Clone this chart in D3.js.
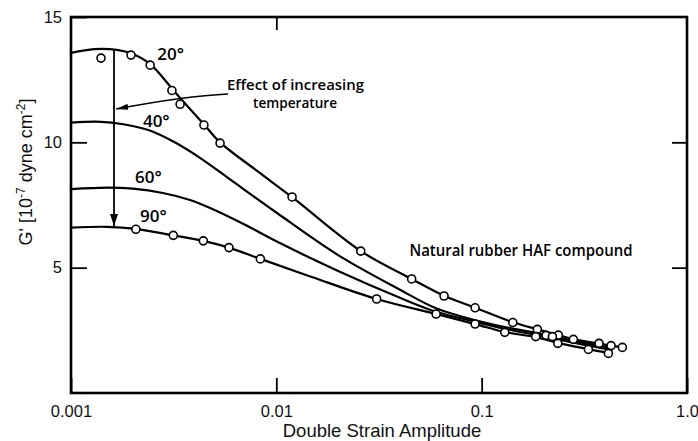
<!DOCTYPE html>
<html>
<head>
<meta charset="utf-8">
<script src="https://cdn.jsdelivr.net/npm/d3@7"></script>
<style>
  html, body { margin: 0; padding: 0; background: #fff; }
  svg { display: block; }
</style>
</head>
<body>
<svg id="chart" width="698" height="441"></svg>
<script>
// Storage modulus G' of a natural rubber HAF compound against double strain amplitude,
// at four temperatures.

const strainTicks = [0.001, 0.01, 0.1, 1];
const strainTickLabels = ["0.001", "0.01", "0.1", "1.0"];
const modulusTicks = [5, 10, 15];
const temperatures = ["20°", "40°", "60°", "90°"];

// Smooth curves, [double strain amplitude, G' in 10^7 dyne/cm^2]
const curve20 = [[0.001, 13.57], [0.0013, 13.72], [0.0017, 13.68], [0.00196, 13.55], [0.00243, 13.12],
  [0.0031, 12.15], [0.00353, 11.62], [0.00444, 10.72], [0.00532, 10.0], [0.008, 8.88], [0.0119, 7.82],
  [0.0258, 5.66], [0.0456, 4.55], [0.0656, 3.88], [0.093, 3.40], [0.142, 2.82], [0.187, 2.54],
  [0.236, 2.31], [0.28, 2.15], [0.373, 1.97], [0.427, 1.89], [0.485, 1.82]];
const curve40 = [[0.001, 10.79], [0.0014, 10.82], [0.0018, 10.72], [0.0024, 10.48], [0.0032, 10.0],
  [0.0043, 9.35], [0.006, 8.5], [0.01, 7.2], [0.02, 5.5], [0.04, 4.12], [0.06, 3.38], [0.093, 2.9],
  [0.13, 2.63], [0.2, 2.34], [0.3, 2.03], [0.43, 1.8]];
const curve60 = [[0.001, 8.13], [0.0015, 8.19], [0.002, 8.15], [0.0028, 7.98], [0.0038, 7.7],
  [0.005, 7.3], [0.007, 6.72], [0.01, 6.05], [0.02, 4.87], [0.04, 3.8], [0.06, 3.24], [0.093, 2.84],
  [0.13, 2.56], [0.2, 2.26], [0.3, 1.96], [0.43, 1.72]];
const curve90 = [[0.001, 6.6], [0.0015, 6.63], [0.00207, 6.55], [0.00315, 6.29], [0.00441, 6.07],
  [0.00588, 5.80], [0.00836, 5.35], [0.015, 4.62], [0.0308, 3.75], [0.06, 3.15], [0.0929, 2.75],
  [0.1296, 2.43], [0.1834, 2.23], [0.2348, 2.0], [0.331, 1.75], [0.414, 1.6]];

// Measured points
const points20 = [[0.0014, 13.36], [0.00196, 13.48], [0.00243, 13.08], [0.0031, 12.07], [0.0034, 11.52],
  [0.00444, 10.69], [0.00532, 9.97], [0.01193, 7.82], [0.02577, 5.66], [0.0456, 4.55], [0.0656, 3.87],
  [0.0929, 3.40], [0.1418, 2.81], [0.1867, 2.54], [0.2364, 2.31], [0.2797, 2.14], [0.373, 1.98],
  [0.427, 1.89], [0.4845, 1.82]];
const points40 = [[0.206, 2.30]];
const points60 = [[0.221, 2.25]];
const points90 = [[0.00207, 6.53], [0.00315, 6.29], [0.00441, 6.07], [0.00588, 5.80], [0.00836, 5.35],
  [0.0308, 3.75], [0.06, 3.15], [0.0929, 2.75], [0.1296, 2.42], [0.1834, 2.25], [0.2348, 1.98],
  [0.331, 1.74], [0.414, 1.58]];

const svg = d3.select("#chart");
const plotLeft = 71, plotRight = 687, plotTop = 17, plotBottom = 393;

const x = d3.scaleLog().domain([0.001, 1]).range([plotLeft, plotRight]);
const y = d3.scaleLinear().domain([0, 15]).range([plotBottom, plotTop]);

const ink = "#000";
const tickFont = "'Liberation Sans', Arial, sans-serif";
const noteFont = "'Open Sans', 'Liberation Sans', sans-serif";

// arrowhead markers
const defs = svg.append("defs");
defs.append("marker")
  .attr("id", "head")
  .attr("viewBox", "0 0 12 8")
  .attr("refX", 12).attr("refY", 4)
  .attr("markerUnits", "userSpaceOnUse")
  .attr("markerWidth", 12).attr("markerHeight", 8)
  .attr("orient", "auto")
  .append("path").attr("d", "M0,0 L12,4 L0,8 Z").attr("fill", ink);
defs.append("marker")
  .attr("id", "headThin")
  .attr("viewBox", "0 0 12 6")
  .attr("refX", 12).attr("refY", 3)
  .attr("markerUnits", "userSpaceOnUse")
  .attr("markerWidth", 12).attr("markerHeight", 6)
  .attr("orient", "auto")
  .append("path").attr("d", "M0,0 L12,3 L0,6 Z").attr("fill", ink);

// axes with inward ticks
const bottomAxis = d3.axisBottom(x).tickValues(strainTicks)
  .tickFormat((d, i) => strainTickLabels[i]).tickSizeInner(-15).tickSizeOuter(0).tickPadding(12);
const leftAxis = d3.axisLeft(y).tickValues(modulusTicks)
  .tickFormat(d3.format("d")).tickSizeInner(-16).tickSizeOuter(0).tickPadding(9);
const rightAxis = d3.axisRight(y).tickValues([5, 10]).tickFormat("").tickSizeInner(-15).tickSizeOuter(0);
const topAxis = d3.axisTop(x).tickValues([0.01]).tickFormat("").tickSizeInner(-13).tickSizeOuter(0);

function styleAxis(g) {
  g.select(".domain").remove();
  g.selectAll(".tick line").attr("stroke", ink).attr("stroke-width", 1.8);
  g.selectAll(".tick text").attr("fill", "#111").attr("font-family", tickFont).attr("font-size", 16.5);
}
svg.append("g").attr("transform", `translate(0,${plotBottom})`).call(bottomAxis).call(styleAxis);
svg.append("g").attr("transform", `translate(${plotLeft},0)`).call(leftAxis).call(styleAxis);
svg.append("g").attr("transform", `translate(${plotRight},0)`).call(rightAxis).call(styleAxis);
svg.append("g").attr("transform", `translate(0,${plotTop})`).call(topAxis).call(styleAxis);

// frame
svg.append("rect")
  .attr("x", plotLeft).attr("y", plotTop)
  .attr("width", plotRight - plotLeft).attr("height", plotBottom - plotTop)
  .attr("fill", "none").attr("stroke", ink).attr("stroke-width", 2.6);

// axis titles
svg.append("text")
  .attr("x", (plotLeft + plotRight) / 2 + 3).attr("y", 437)
  .attr("text-anchor", "middle")
  .attr("font-family", tickFont).attr("font-size", 18.5).attr("fill", "#111")
  .text("Double Strain Amplitude");

const yTitle = svg.append("text")
  .attr("transform", "translate(32,172) rotate(-90)")
  .attr("text-anchor", "middle")
  .attr("font-family", tickFont).attr("font-size", 18).attr("fill", "#111");
yTitle.append("tspan").text("G' [10");
yTitle.append("tspan").attr("font-size", 12).attr("dy", -7).text("-7");
yTitle.append("tspan").attr("dy", 7).text(" dyne cm");
yTitle.append("tspan").attr("font-size", 12).attr("dy", -7).text("-2");
yTitle.append("tspan").attr("dy", 7).text("]");

// curves
const line = d3.line().x(d => x(d[0])).y(d => y(d[1])).curve(d3.curveCatmullRom.alpha(0.5));
const curves = [curve20, curve40, curve60, curve90];
svg.append("g").selectAll("path").data(curves).join("path")
  .attr("d", line)
  .attr("fill", "none").attr("stroke", ink).attr("stroke-width", 2.2)
  .attr("stroke-linejoin", "round").attr("stroke-linecap", "round");

// arrow: effect of temperature on the plateau
svg.append("line")
  .attr("x1", x(0.00162)).attr("y1", y(13.66))
  .attr("x2", x(0.00162)).attr("y2", y(6.66))
  .attr("stroke", ink).attr("stroke-width", 1.8)
  .attr("marker-end", "url(#head)");

const pStart = [x(0.00582), y(11.93)];
const pCtrl = [x(0.00359), y(11.85)];
const pEnd = [x(0.00166), y(11.33)];
const bend = d3.path();
bend.moveTo(pStart[0], pStart[1]);
bend.quadraticCurveTo(pCtrl[0], pCtrl[1], pEnd[0], pEnd[1]);
svg.append("path").attr("d", bend.toString())
  .attr("fill", "none").attr("stroke", ink).attr("stroke-width", 1.6)
  .attr("marker-end", "url(#headThin)");

// data points
const allPoints = [points20, points40, points60, points90].flat();
svg.append("g").selectAll("circle").data(allPoints).join("circle")
  .attr("cx", d => x(d[0])).attr("cy", d => y(d[1])).attr("r", 4)
  .attr("fill", "#fff").attr("stroke", ink).attr("stroke-width", 1.6);

// temperature labels
const labelAt = [[0.00263, 13.28], [0.00224, 10.63], [0.00205, 8.36], [0.00217, 6.83]];
svg.append("g").selectAll("text").data(temperatures).join("text")
  .attr("x", (d, i) => x(labelAt[i][0])).attr("y", (d, i) => y(labelAt[i][1]))
  .attr("font-family", noteFont).attr("font-weight", 600).attr("font-size", 17)
  .attr("fill", ink)
  .text(d => d);

// notes
svg.append("text")
  .attr("x", x(0.00575)).attr("y", y(12.1))
  .attr("font-family", noteFont).attr("font-weight", 600).attr("font-size", 15)
  .attr("textLength", 137).attr("lengthAdjust", "spacingAndGlyphs")
  .attr("fill", ink).text("Effect of increasing");
svg.append("text")
  .attr("x", 253).attr("y", y(11.35))
  .attr("font-family", noteFont).attr("font-weight", 600).attr("font-size", 15)
  .attr("textLength", 84).attr("lengthAdjust", "spacingAndGlyphs")
  .attr("fill", ink).text("temperature");
svg.append("text")
  .attr("x", x(0.0445)).attr("y", y(5.45))
  .attr("font-family", noteFont).attr("font-weight", 600).attr("font-size", 15.5)
  .attr("textLength", 223).attr("lengthAdjust", "spacingAndGlyphs")
  .attr("fill", ink).text("Natural rubber HAF compound");
</script>
</body>
</html>
